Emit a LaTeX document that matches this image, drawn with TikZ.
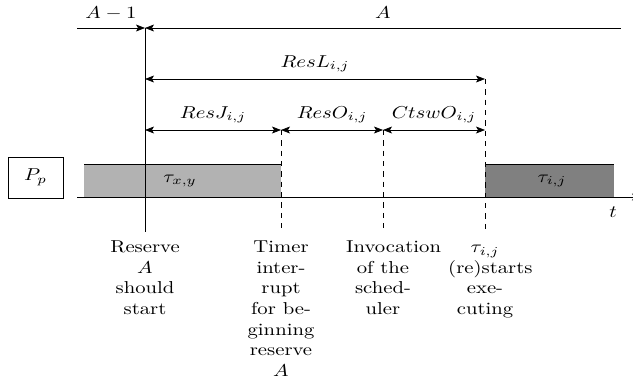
\documentclass[tikz,border=0pt]{standalone}
\usetikzlibrary{arrows.meta}
\begin{document}
\begin{tikzpicture}[x=0.58pt,y=-0.58pt,
  sx/.style={xscale=1.2},
  tipa/.tip={Stealth[length=5.2pt,width=4pt,inset=1.2pt]},
  dimline/.style={tipa-tipa},
  lbl/.style={sx,anchor=base,inner sep=0pt},
  evt/.style={sx,anchor=north,inner sep=0pt,text width=1.25cm,align=center},
  lightbox/.style={fill=black!30},
  darkbox/.style={fill=black!50}
]
\useasboundingbox (0,0) rectangle (633,390);
% coordinates
\coordinate (tl) at (77,28);
\coordinate (ts) at (145,28);
\coordinate (tr) at (621,28);
\coordinate (ls) at (145,79);
\coordinate (le) at (485,79);
\coordinate (j0) at (145,130);
\coordinate (j1) at (281,130);
\coordinate (j2) at (383,130);
\coordinate (j3) at (485,130);
\coordinate (b0) at (145,232);
\coordinate (b1) at (281,232);
\coordinate (b2) at (383,232);
\coordinate (b3) at (485,232);
\coordinate (al) at (77,197);
\coordinate (ar) at (641,197);
% execution boxes
\fill[lightbox] (84,164) rectangle (281,197);
\draw (84,164) -- (281,164);
\fill[darkbox] (485,164) rectangle (614,197);
\draw (485,164) -- (614,164);
\node[sx] (txy) at (180,181) {$\tau_{x,y}$};
\node[sx] (tij) at (552,181) {$\tau_{i,j}$};
% processor
\node[sx,draw,minimum width=26.6pt,minimum height=23.8pt,inner sep=0pt] (pp) at (35.5,177.5) {$P_p$};
% time axis
\draw[-tipa] (al) -- (ar);
\node[sx] (t) at (613,212) {$t$};
% top line
\draw[-tipa] (tl) -- (ts);
\draw[tipa-] (ts) -- (tr);
\node[lbl] (am1) at (111,18) {$A-1$};
\node[lbl] (a) at (383,18) {$A$};
% vertical lines
\draw (ts) -- (b0);
\draw[dashed] (le) -- (b3);
\draw[dashed] (j1) -- (b1);
\draw[dashed] (j2) -- (b2);
% dimension arrows
\draw[dimline] (ls) -- (le);
\node[lbl] (resl) at (315,67) {$ResL_{i,j}$};
\draw[dimline] (j0) -- (j1);
\draw[dimline] (j1) -- (j2);
\draw[dimline] (j2) -- (j3);
\node[lbl] (resj) at (213,118) {$ResJ_{i,j}$};
\node[lbl] (reso) at (332,118) {$ResO_{i,j}$};
\node[lbl] (ctsw) at (434,118) {$CtswO_{i,j}$};
% event labels
\node[evt] (e0) at (145,237.7) {\strut Reserve $A$ should start};
\node[evt] (e1) at (281,237.7) {\strut Timer interrupt for beginning reserve $A$};
\node[evt] (e2) at (383,237.7) {\strut Invocation of the scheduler};
\node[evt] (e3) at (485,237.7) {\strut $\tau_{i,j}$ (re)starts executing};
\end{tikzpicture}
\end{document}
